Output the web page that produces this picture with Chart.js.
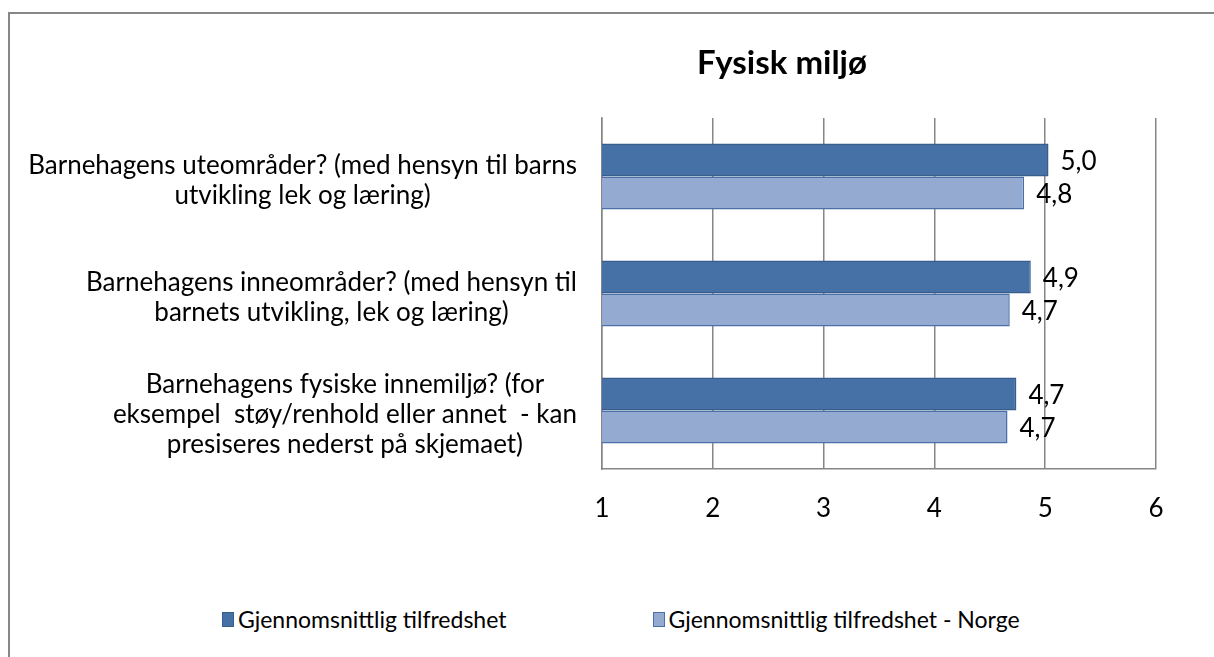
<!DOCTYPE html>
<html>
<head>
<meta charset="utf-8">
<script src="https://cdn.jsdelivr.net/npm/chart.js@4"></script>
<style>
 body { margin: 0; background: #fff; overflow: hidden; }
 #frame { position: absolute; left: 8px; top: 12px; width: 1300px; height: 700px; border: 2px solid #878787; }
 #title { position: absolute; left: 582px; top: 41px; width: 400px; text-align: center;
   font-family: Lato, sans-serif; font-weight: bold; font-size: 33px; line-height: 40px; color: #000; }
 #chart { position: absolute; left: 0; top: 0; }
 #legend { position: absolute; left: 222px; top: 605px; display: flex; align-items: center;
   font-family: Lato, sans-serif; font-size: 23px; line-height: 28px; color: #000; white-space: nowrap; }
 #legend .item { display: flex; align-items: center; }
 #legend .item + .item { margin-left: 146px; }
 #legend .box { width: 10px; height: 13px; margin-right: 4px; border-width: 1px; border-style: solid; }
</style>
</head>
<body>
<div id="frame"></div>
<canvas id="chart" width="1214" height="525"></canvas>
<div id="title">Fysisk miljø</div>
<div id="legend"></div>
<script>
// chart data
const categories = [
 ["Barnehagens uteområder? (med hensyn til barns", "utvikling lek og læring)"],
 ["Barnehagens inneområder? (med hensyn til", "barnets utvikling, lek og læring)"],
 ["Barnehagens fysiske innemiljø? (for", "eksempel  støy/renhold eller annet  - kan", "presiseres nederst på skjemaet)"]
];
const seriesNames = ["Gjennomsnittlig tilfredshet", "Gjennomsnittlig tilfredshet - Norge"];
const localValues = [5.03, 4.87, 4.74];
const norwayValues = [4.81, 4.68, 4.66];
const xTicks = [1, 2, 3, 4, 5, 6];

const FONT = 'Lato, sans-serif';

// draws the value next to the end of each bar
const valueLabels = {
 id: 'valueLabels',
 afterDatasetsDraw(chart) {
  const ctx = chart.ctx;
  ctx.save();
  ctx.font = '26px ' + FONT;
  ctx.fillStyle = '#000';
  ctx.textAlign = 'left';
  ctx.textBaseline = 'middle';
  chart.data.datasets.forEach(function(ds, di) {
   chart.getDatasetMeta(di).data.forEach(function(bar, i) {
    let txt = ds.data[i].toFixed(1).replace('.', ',');
    ctx.fillText(txt, bar.x + 12, bar.y + 2);
   });
  });
  ctx.restore();
 }
};

// category labels: each block is right aligned to the axis, lines centered in the block
const categoryLabels = {
 id: 'categoryLabels',
 afterDraw(chart) {
  const ctx = chart.ctx;
  const yScale = chart.scales.y;
  const right = chart.chartArea.left - 25;
  ctx.save();
  ctx.font = '26px ' + FONT;
  ctx.fillStyle = '#000';
  ctx.textAlign = 'center';
  ctx.textBaseline = 'middle';
  categories.forEach(function(lines, i) {
   let maxW = 0;
   lines.forEach(function(l) { maxW = Math.max(maxW, ctx.measureText(l).width); });
   const cx = right - maxW / 2;
   const lh = 30;
   const y0 = yScale.getPixelForTick(i) + 4 - (lines.length - 1) * lh / 2;
   lines.forEach(function(l, k) {
    ctx.fillText(l, cx, y0 + k * lh);
   });
  });
  ctx.restore();
 }
};

const ctx = document.getElementById('chart').getContext('2d');
const chart = new Chart(ctx, {
 type: 'bar',
 data: {
  labels: categories,
  datasets: [{
   label: seriesNames[0],
   data: localValues,
   backgroundColor: '#4571A6',
   borderColor: '#385D8A',
   borderWidth: 1.5,
   borderSkipped: 'start'
  }, {
   label: seriesNames[1],
   data: norwayValues,
   backgroundColor: '#95AAD1',
   borderColor: '#4A70A8',
   borderWidth: 1.5,
   borderSkipped: 'start'
  }]
 },
 options: {
  indexAxis: 'y',
  responsive: false,
  animation: false,
  categoryPercentage: 0.564,
  barPercentage: 1.0,
  layout: { padding: { left: 0, right: 58, top: 118, bottom: 0 } },
  scales: {
   x: {
    min: 1,
    max: 6,
    afterBuildTicks(scale) { scale.ticks = xTicks.map(v => ({ value: v })); },
    afterFit(scale) { scale.height = 56; },
    grid: { color: '#868686', lineWidth: 1.5, drawTicks: false },
    border: { color: '#868686', width: 1.5 },
    ticks: { color: '#000', font: { family: FONT, size: 26 }, padding: 24 }
   },
   y: {
    afterFit(scale) { scale.width = 602; },
    grid: { display: false },
    border: { color: '#868686', width: 1.5 },
    ticks: { display: false }
   }
  },
  plugins: {
   legend: { display: false },
   tooltip: { enabled: false }
  }
 },
 plugins: [valueLabels, categoryLabels]
});

// html legend built from the chart's own legend items
const legendDiv = document.getElementById('legend');
chart.options.plugins.legend.labels.generateLabels(chart).forEach(function(item) {
 const el = document.createElement('div');
 el.className = 'item';
 const box = document.createElement('span');
 box.className = 'box';
 box.style.background = item.fillStyle;
 box.style.borderColor = item.strokeStyle;
 el.appendChild(box);
 el.appendChild(document.createTextNode(item.text));
 legendDiv.appendChild(el);
});
</script>
</body>
</html>
